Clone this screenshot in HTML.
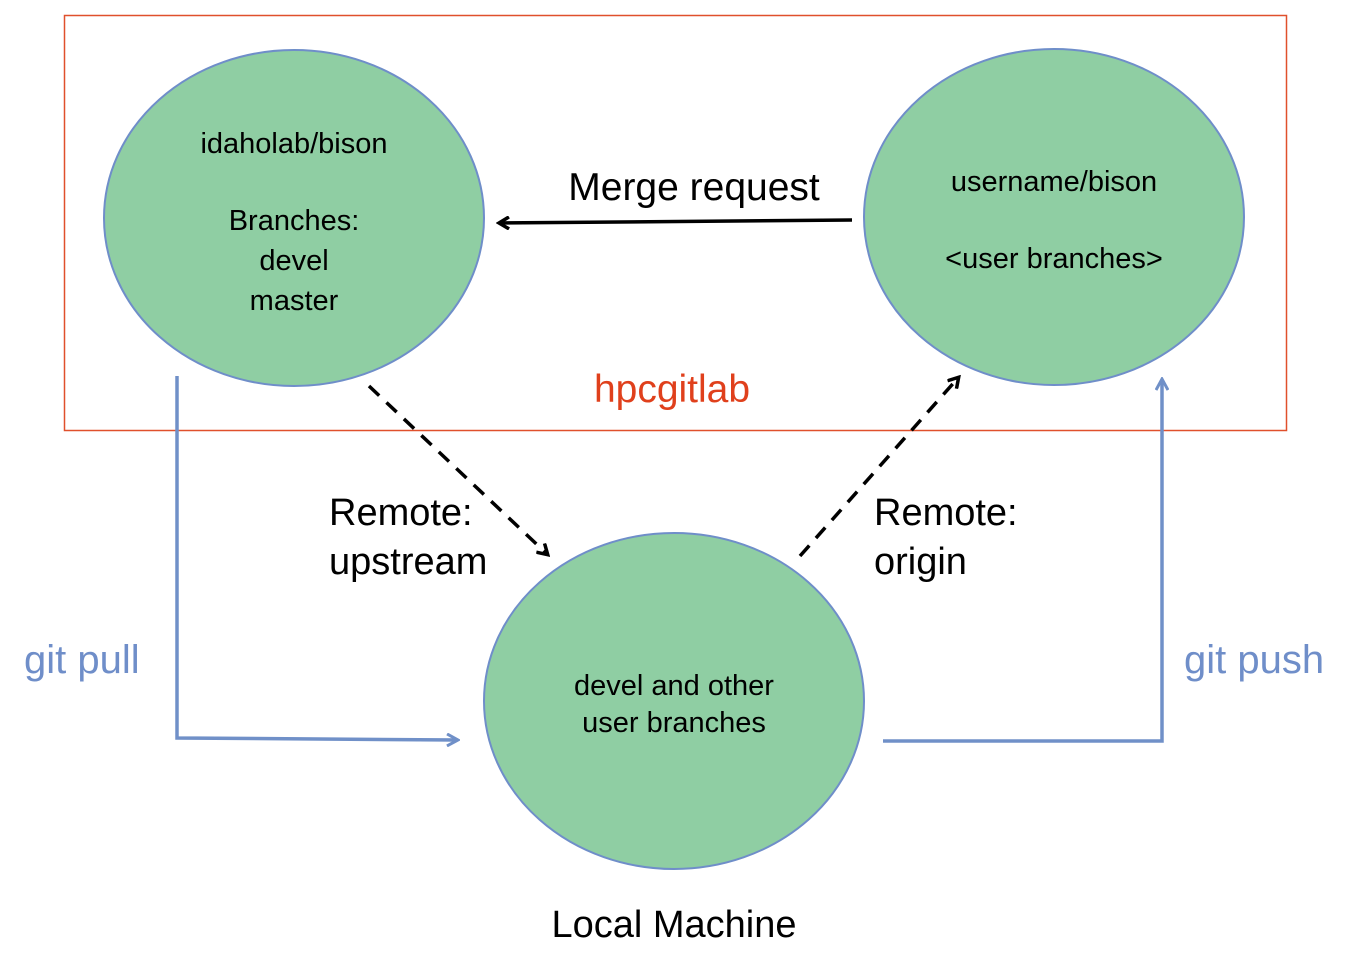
<!DOCTYPE html>
<html><head><meta charset="utf-8"><style>
body{margin:0;background:#fff;}
svg text{font-family:"Liberation Sans",sans-serif;}
</style></head><body>
<svg width="1349" height="963" viewBox="0 0 1349 963" xmlns="http://www.w3.org/2000/svg">
<defs>
<marker id="ab" markerWidth="14" markerHeight="14" refX="10" refY="7" orient="auto" markerUnits="userSpaceOnUse"><path d="M1,1 L11,7 L1,13" fill="none" stroke="#000" stroke-width="3.5"/></marker>
<marker id="ablue" markerWidth="14" markerHeight="14" refX="11" refY="7" orient="auto" markerUnits="userSpaceOnUse"><path d="M1,1 L12,7 L1,13" fill="none" stroke="#7090c8" stroke-width="3"/></marker>
</defs>
<rect x="64.5" y="15.5" width="1222" height="415" fill="none" stroke="#e0502c" stroke-width="1.5"/>
<ellipse cx="294" cy="218" rx="190" ry="168" fill="#8fcea3" stroke="#6f8ec9" stroke-width="2"/>
<ellipse cx="1054" cy="217" rx="190" ry="168" fill="#8fcea3" stroke="#6f8ec9" stroke-width="2"/>
<ellipse cx="674" cy="701" rx="190" ry="168" fill="#8fcea3" stroke="#6f8ec9" stroke-width="2"/>
<g font-size="29" fill="#000" text-anchor="middle">
<text x="294" y="153">idaholab/bison</text>
<text x="294" y="230">Branches:</text>
<text x="294" y="270">devel</text>
<text x="294" y="310">master</text>
<text x="1054" y="191">username/bison</text>
<text x="1054" y="268">&lt;user branches&gt;</text>
<text x="674" y="695">devel and other</text>
<text x="674" y="732">user branches</text>
</g>
<text x="694" y="200" font-size="39" text-anchor="middle">Merge request</text>
<line x1="852" y1="220" x2="500" y2="223" stroke="#000" stroke-width="3.5" marker-end="url(#ab)"/>
<text x="672" y="402" font-size="39" fill="#e0401c" text-anchor="middle">hpcgitlab</text>
<line x1="369" y1="386" x2="547" y2="554" stroke="#000" stroke-width="3.5" stroke-dasharray="14,10" marker-end="url(#ab)"/>
<line x1="800" y1="556" x2="958" y2="378" stroke="#000" stroke-width="3.5" stroke-dasharray="14,10" marker-end="url(#ab)"/>
<g font-size="38">
<text x="329" y="525">Remote:</text>
<text x="329" y="574">upstream</text>
<text x="874" y="525">Remote:</text>
<text x="874" y="574">origin</text>
<text x="674" y="937" text-anchor="middle">Local Machine</text>
</g>
<g font-size="40" fill="#6f8ec9">
<text x="24" y="673">git pull</text>
<text x="1184" y="673">git push</text>
</g>
<polyline points="177,376 177,738 457,740" fill="none" stroke="#7090c8" stroke-width="3.5" marker-end="url(#ablue)"/>
<polyline points="883,741 1162,741 1162,380" fill="none" stroke="#7090c8" stroke-width="3.5" marker-end="url(#ablue)"/>
</svg>
</body></html>
